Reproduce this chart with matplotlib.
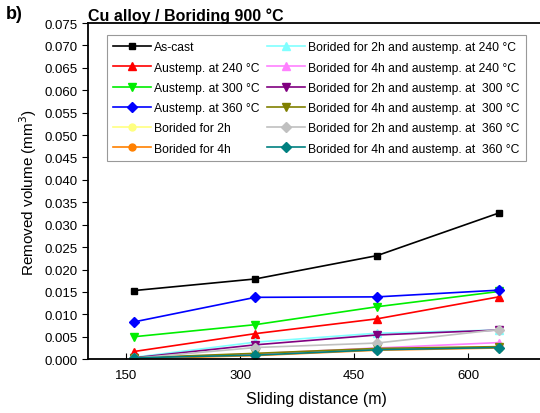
import matplotlib
matplotlib.use("Agg")
import matplotlib.pyplot as plt

plt.rcParams['font.family'] = ['Liberation Sans', 'DejaVu Sans']

# sliding distance (m)
distance = [160, 320, 480, 640]

# removed volume (mm^3)
as_cast = [0.0153, 0.0179, 0.0231, 0.0326]
aus_240 = [0.0017, 0.0057, 0.0090, 0.0139]
aus_300 = [0.0050, 0.0077, 0.0117, 0.0151]
aus_360 = [0.0083, 0.0138, 0.0139, 0.0154]
bor_2h = [0.0002, 0.0010, 0.0022, 0.0027]
bor_4h = [0.0001, 0.0008, 0.0020, 0.0025]
b2_240 = [0.0004, 0.0038, 0.0058, 0.0065]
b4_240 = [0.0002, 0.0012, 0.0025, 0.0037]
b2_300 = [0.0003, 0.0032, 0.0054, 0.0065]
b4_300 = [0.0003, 0.0013, 0.0024, 0.0028]
b2_360 = [0.0002, 0.0026, 0.0036, 0.0066]
b4_360 = [0.0003, 0.0009, 0.0021, 0.0026]

series = [
    ("As-cast", as_cast, "black", "s"),
    ("Austemp. at 240 °C", aus_240, "red", "^"),
    ("Austemp. at 300 °C", aus_300, "#00ee00", "v"),
    ("Austemp. at 360 °C", aus_360, "blue", "D"),
    ("Borided for 2h", bor_2h, "#ffff80", "o"),
    ("Borided for 4h", bor_4h, "#ff8000", "o"),
    ("Borided for 2h and austemp. at 240 °C", b2_240, "#80ffff", "^"),
    ("Borided for 4h and austemp. at 240 °C", b4_240, "#ff80ff", "^"),
    ("Borided for 2h and austemp. at  300 °C", b2_300, "purple", "v"),
    ("Borided for 4h and austemp. at  300 °C", b4_300, "#808000", "v"),
    ("Borided for 2h and austemp. at  360 °C", b2_360, "#c0c0c0", "D"),
    ("Borided for 4h and austemp. at  360 °C", b4_360, "#008080", "D"),
]

fig = plt.figure(figsize=(5.4, 4.14), dpi=100)
ax = fig.add_axes([0.163, 0.130, 0.845, 0.812])

for name, vals, col, mk in series:
    ms = 5.5 if mk in ("D", "^", "v") else 5
    ax.plot(distance, vals, color=col, marker=mk, markersize=ms, lw=1.2, label=name)

ax.set_xlim(100, 700)
ax.set_ylim(0, 0.075)
ax.set_xticks([150, 300, 450, 600])
ax.set_yticks([i * 0.005 for i in range(16)])
ax.yaxis.set_major_formatter(matplotlib.ticker.FormatStrFormatter('%.3f'))
ax.tick_params(axis='x', direction='in', labelsize=9.5, pad=7, length=4)
ax.tick_params(axis='y', direction='out', labelsize=9.5, length=4)
for s in ax.spines.values():
    s.set_linewidth(1.3)

ax.set_xlabel("Sliding distance (m)", fontsize=11.5, labelpad=7)
ax.set_ylabel("Removed volume (mm$^3$)", fontsize=11)
ax.set_title("Cu alloy / Boriding 900 °C", fontsize=11.5, fontweight='bold', loc='left', pad=2)
fig.text(0.01, 0.955, "b)", fontsize=13, fontweight='bold')

leg = ax.legend(ncol=2, fontsize=8.7, loc='upper left', bbox_to_anchor=(0.042, 0.963),
                borderaxespad=0, fancybox=False, edgecolor='gray', handlelength=3.1,
                columnspacing=0.6, handletextpad=0.3, labelspacing=0.68, borderpad=0.5)
leg.get_frame().set_linewidth(0.8)

fig.savefig("out.png", dpi=100)
